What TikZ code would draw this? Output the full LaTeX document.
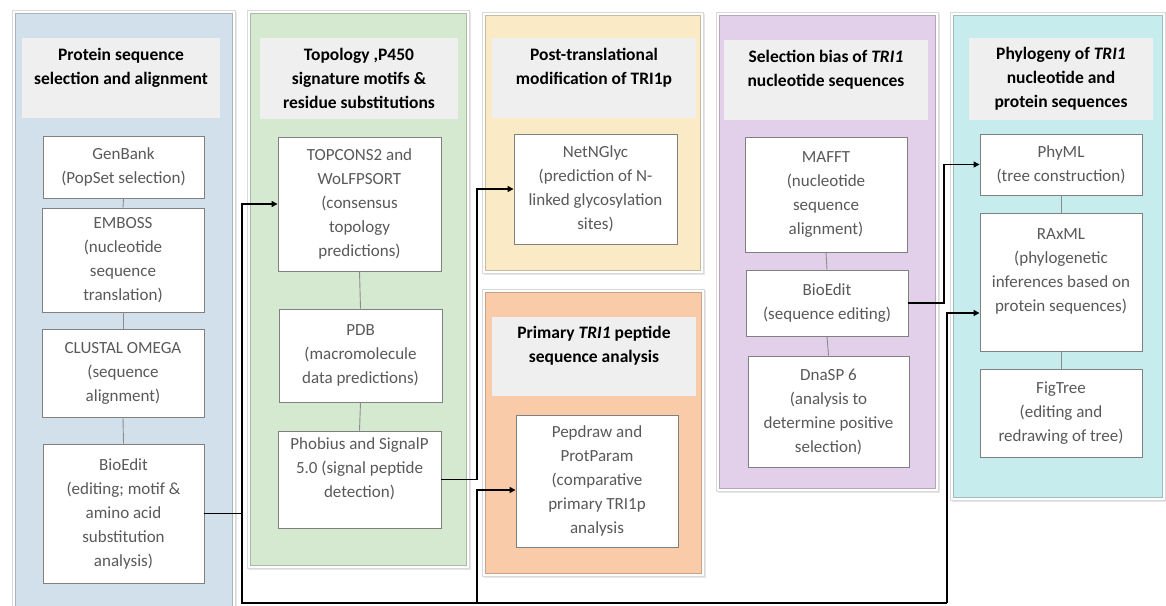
\documentclass[tikz,border=0pt]{standalone}
\usepackage{fontspec}
\setmainfont{Carlito}
\usetikzlibrary{arrows.meta,shadows,calc}
\definecolor{cBlue}{HTML}{D2E0EB}
\definecolor{cGreen}{HTML}{D5E8D0}
\definecolor{cYellow}{HTML}{FAEAC6}
\definecolor{cPeach}{HTML}{FACBA9}
\definecolor{cPurple}{HTML}{E2D0EA}
\definecolor{cCyan}{HTML}{C6ECEE}
\definecolor{hdrgray}{HTML}{EFEFEF}
\definecolor{txtgray}{HTML}{595959}
\tikzset{
  panelbox/.style={fill=#1, draw=#1!80!black, line width=0.6pt},
  pframe/.style={fill=white, draw=black!15, line width=0.6pt,
    drop shadow={opacity=0.2, shadow xshift=1.5pt, shadow yshift=-2pt}},
  header/.style={fill=hdrgray, draw=none, font=\bfseries\fontsize{17.5}{24}\selectfont, align=center, text=black},
  toolbox/.style={fill=white, draw=black!50, line width=0.9pt, font=\fontsize{17}{24}\selectfont, align=center, text=txtgray},
  link/.style={draw=black!45, line width=0.9pt},
  bus/.style={draw=black, line width=1.4pt},
  arr/.style={-{Triangle[length=6pt,width=6pt]}},
}
\newcommand\mybox[7]{\node[#6, minimum width={#4-#2}, minimum height={#5-#3}, inner sep=0pt] (#1) at ({(#2+#4)/2},{(#3+#5)/2}) {#7};}
\begin{document}
\begin{tikzpicture}[x=1pt,y=-1pt]
\useasboundingbox (0,0) rectangle (1166,605);
% panels
\mybox{f1}{12}{10}{235}{609}{pframe}{}
\mybox{p1}{15}{13}{232}{606}{panelbox=cBlue}{}
\mybox{f2}{247}{10}{469}{568}{pframe}{}
\mybox{p2}{250}{13}{466}{565}{panelbox=cGreen}{}
\mybox{f3}{482}{12}{703}{273}{pframe}{}
\mybox{p3}{485}{15}{700}{270}{panelbox=cYellow}{}
\mybox{f4}{482}{289}{704}{576}{pframe}{}
\mybox{p4}{485}{292}{701}{573}{panelbox=cPeach}{}
\mybox{f5}{716}{12}{938}{491}{pframe}{}
\mybox{p5}{719}{15}{935}{488}{panelbox=cPurple}{}
\mybox{f6}{950}{12}{1165}{500}{pframe}{}
\mybox{p6}{953}{15}{1162}{497}{panelbox=cCyan}{}
% headers
\mybox{h1}{22}{38}{220}{118}{header}{Protein sequence\\selection and alignment\\\mbox{}}
\mybox{h2}{260}{38}{458}{119}{header}{Topology ,P450\\signature motifs \&\\residue substitutions}
\mybox{h3}{492}{38}{696}{118}{header}{Post-translational\\modification of TRI1p\\\mbox{}}
\mybox{h4}{492}{317}{696}{396}{header}{Primary \textit{TRI1} peptide\\sequence analysis\\\mbox{}}
\mybox{h5}{724}{40}{928}{120}{header}{Selection bias of \textit{TRI1}\\nucleotide sequences\\\mbox{}}
\mybox{h6}{969}{38}{1153}{120}{header}{Phylogeny of \textit{TRI1}\\nucleotide and\\protein sequences}
% tool boxes
\mybox{gen}{43}{136}{204}{198}{toolbox}{GenBank\\(PopSet selection)}
\mybox{emb}{42}{208}{204}{312}{toolbox}{EMBOSS\\(nucleotide\\sequence\\translation)}
\mybox{clu}{42}{329}{204}{417}{toolbox}{CLUSTAL OMEGA\\(sequence\\alignment)}
\mybox{bioA}{43}{444}{204}{583}{toolbox}{BioEdit\\(editing; motif \&\\amino acid\\substitution\\analysis)}
\mybox{topc}{278}{137}{441}{271}{toolbox}{TOPCONS2 and\\WoLFPSORT\\(consensus\\topology\\predictions)}
\mybox{pdb}{279}{309}{442}{402}{toolbox}{PDB\\(macromolecule\\data predictions)}
\mybox{pho}{278}{431}{441}{528}{toolbox}{Phobius and SignalP\\5.0 (signal peptide\\detection)\\\mbox{}}
\mybox{net}{514}{134}{677}{244}{toolbox}{NetNGlyc\\(prediction of N-\\linked glycosylation\\sites)}
\mybox{pep}{516}{415}{678}{547}{toolbox}{Pepdraw and\\ProtParam\\(comparative\\primary TRI1p\\analysis}
\mybox{maf}{745}{137}{907}{252}{toolbox}{MAFFT\\(nucleotide\\sequence\\alignment)}
\mybox{bioB}{746}{270}{908}{336}{toolbox}{BioEdit\\(sequence editing)}
\mybox{dna}{748}{356}{909}{467}{toolbox}{DnaSP 6\\(analysis to\\determine positive\\selection)}
\mybox{phy}{980}{134}{1142}{195}{toolbox}{PhyML\\(tree construction)}
\mybox{rax}{980}{213}{1142}{351}{toolbox}{RAxML\\(phylogenetic\\inferences based on\\protein sequences)\\\mbox{}}
\mybox{fig}{980}{369}{1142}{457}{toolbox}{FigTree\\(editing and\\redrawing of tree)}
% links inside panels
\draw[link] (gen.south) -- (emb.north);
\draw[link] (emb.south) -- (clu.north);
\draw[link] (clu.south) -- (bioA.north);
\draw[link] (topc.south) -- (pdb.north);
\draw[link] (pdb.south) -- (pho.north);
\draw[link] (maf.south) -- (bioB.north);
\draw[link] (bioB.south) -- (dna.north);
\draw[link] (phy.south) -- (rax.north);
\draw[link] (rax.south) -- (fig.north);
% bus connectors
\coordinate (xL) at (242,603);
\coordinate (xM) at (477,603);
\coordinate (xR) at (947,603);
\coordinate (xR2) at (944,300);
\draw[bus,arr] (bioA.east) -- (bioA.east -| xL) |- (topc.west);
\draw[bus] (bioA.east -| xL) -- (xL) -- (xR);
\draw[bus,arr] (xM) |- ([yshift=-9pt]pep.west);
\draw[bus,arr] (xR) |- ([yshift=-31pt]rax.west);
\draw[bus,arr] (pho.east) -- (pho.east -| xM) |- (net.west);
\draw[bus,arr] (bioB.east) -- (bioB.east -| xR2) |- (phy.west);
\end{tikzpicture}
\end{document}
